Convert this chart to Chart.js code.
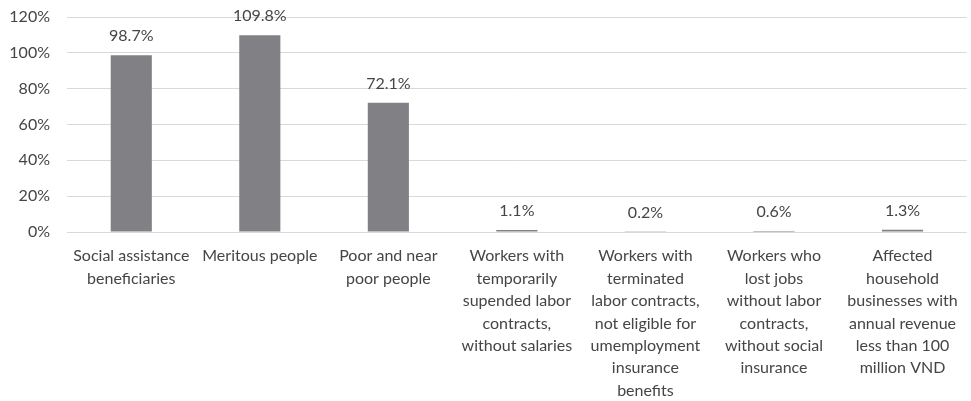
<!DOCTYPE html>
<html>
<head>
<meta charset="utf-8">
<script src="https://cdn.jsdelivr.net/npm/chart.js@4/dist/chart.umd.min.js"></script>
<style>
  html, body { margin: 0; padding: 0; background: #fff; }
  #wrap { width: 971px; height: 401px; position: relative; }
</style>
</head>
<body>
<div id="wrap"><canvas id="chart"></canvas></div>
<script>
// categories (multi-line labels)
const categories = [
  ["Social assistance", "beneficiaries"],
  ["Meritous people"],
  ["Poor and near", "poor people"],
  ["Workers with", "temporarily", "supended labor", "contracts,", "without salaries"],
  ["Workers with", "terminated", "labor contracts,", "not eligible for", "umemployment", "insurance", "benefits"],
  ["Workers who", "lost jobs", "without labor", "contracts,", "without social", "insurance"],
  ["Affected", "household", "businesses with", "annual revenue", "less than 100", "million VND"]
];
// percentage values
const values = [98.7, 109.8, 72.1, 1.1, 0.2, 0.6, 1.3];
const yTicks = [0, 20, 40, 60, 80, 100, 120];

const FONT = "Lato, 'Open Sans', sans-serif";
const TEXT = "#454545";

// value labels above each bar
const valueLabels = {
  id: "valueLabels",
  afterDatasetsDraw(chart) {
    const ctx = chart.ctx;
    const meta = chart.getDatasetMeta(0);
    ctx.save();
    ctx.font = "16px " + FONT;
    ctx.fillStyle = TEXT;
    ctx.textAlign = "center";
    ctx.textBaseline = "middle";
    meta.data.forEach((bar, i) => {
      ctx.fillText(values[i].toFixed(1) + "%", bar.x, bar.y - 19);
    });
    ctx.restore();
  }
};

new Chart(document.getElementById("chart"), {
  type: "bar",
  data: {
    labels: categories,
    datasets: [{
      data: values,
      backgroundColor: "#818185",
      borderWidth: 0,
      barPercentage: 0.32,
      categoryPercentage: 1
    }]
  },
  options: {
    responsive: true,
    maintainAspectRatio: false,
    animation: false,
    layout: { padding: { top: 17, right: 4, bottom: 0, left: 0 } },
    plugins: {
      legend: { display: false },
      tooltip: { enabled: false }
    },
    scales: {
      x: {
        grid: { display: false, drawTicks: false },
        border: { display: false },
        ticks: {
          color: TEXT,
          font: { family: FONT, size: 16, lineHeight: 1.4 },
          padding: 13,
          maxRotation: 0,
          minRotation: 0,
          autoSkip: false
        },
        afterFit(scale) { scale.height = 169; }
      },
      y: {
        min: 0,
        max: 120,
        afterBuildTicks(scale) { scale.ticks = yTicks.map(v => ({ value: v })); },
        grid: { color: "#d9d9d9", lineWidth: 1, drawTicks: false },
        border: { display: false },
        ticks: {
          color: TEXT,
          font: { family: FONT, size: 16 },
          padding: 17,
          callback: v => v + "%"
        },
        afterFit(scale) {
          scale.width = 67;
          scale.paddingTop = 0;
          scale.paddingBottom = 0;
        }
      }
    }
  },
  plugins: [valueLabels]
});
</script>
</body>
</html>
